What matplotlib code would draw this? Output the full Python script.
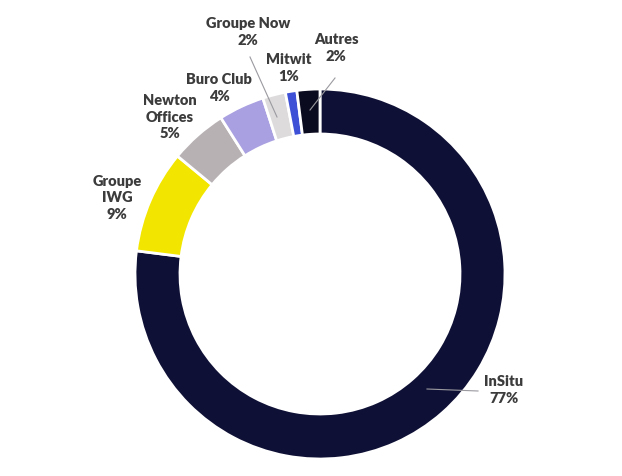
import matplotlib.pyplot as plt

# Market share of coworking operators
names = ['InSitu', 'Groupe\nIWG', 'Newton\nOffices', 'Buro Club', 'Groupe Now', 'Mitwit', 'Autres']
shares = [77, 9, 5, 4, 2, 1, 2]
colors = ['#0f1035', '#f2e600', '#b8b1b4', '#a8a0e0', '#dddbdb', '#3d50d6', '#0b0b1f']

plt.rcParams['font.family'] = ['Lato', 'DejaVu Sans']

W, H = 622, 476
fig = plt.figure(figsize=(W / 100, H / 100), dpi=100)
ax = fig.add_axes([0, 0, 1, 1])

cx, cy, r = 320, H - 274, 185
ax.pie(shares, colors=colors, startangle=90, counterclock=False,
       center=(cx, cy), radius=r, frame=True,
       wedgeprops=dict(width=45, edgecolor='white', linewidth=2))
ax.set_xlim(0, W)
ax.set_ylim(0, H)
ax.set_aspect('equal')
ax.axis('off')

# label positions in pixel coords (x, y from top)
label_pos = [(504, 390), (117, 198), (170, 117), (219, 88), (248, 32), (289, 68), (336, 48)]
txt_color = '#3c3c3c'
for name, val, (x, y) in zip(names, shares, label_pos):
    ax.text(x, H - y, f'{name}\n{val}%', ha='center', va='center',
            fontsize=10.5, fontweight='heavy', color=txt_color, linespacing=1.3)

# leader lines
lines = [((427, 389), (478, 391)), ((250, 57), (277, 117)), ((335, 78), (310, 110))]
for (x0, y0), (x1, y1) in lines:
    ax.plot([x0, x1], [H - y0, H - y1], color='#9a9aa0', linewidth=0.8)

fig.savefig('out.png', dpi=100)
